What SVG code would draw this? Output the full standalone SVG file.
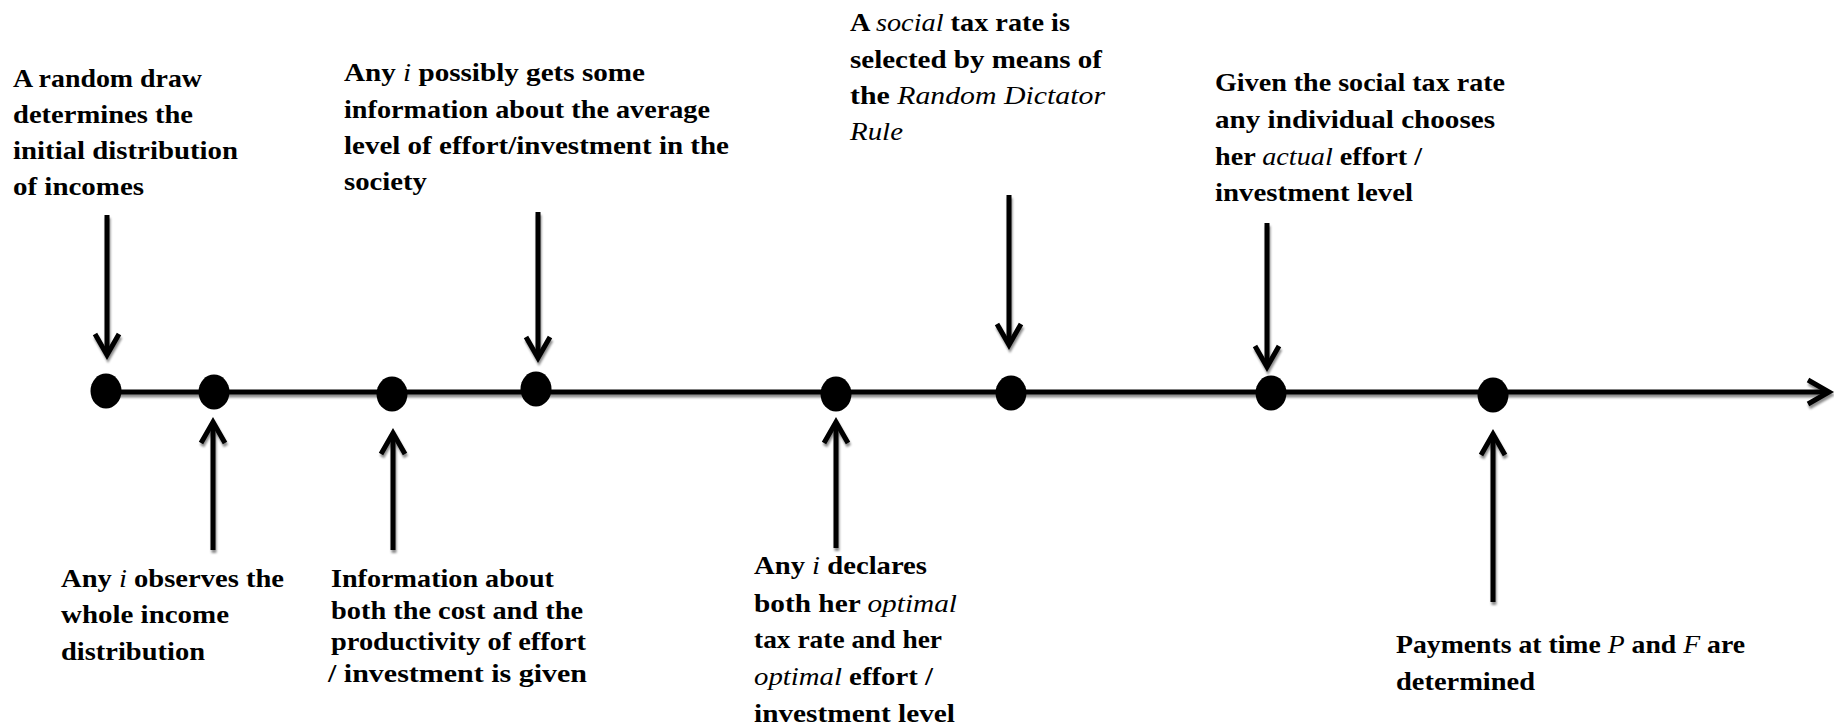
<svg xmlns="http://www.w3.org/2000/svg" width="1834" height="728" viewBox="0 0 1834 728">
<style>
text{font-family:'Liberation Serif','DejaVu Serif',serif;font-weight:700;font-size:26px;fill:#000}
.it{font-style:italic;font-weight:400}
.ln{stroke:#000;stroke-width:5;fill:none}
.dot{fill:#000}
</style>
<defs>
<filter id="sh" x="-5%" y="-20%" width="110%" height="140%">
<feDropShadow dx="1" dy="3" stdDeviation="1" flood-color="#000" flood-opacity="0.45"/>
</filter>
<marker id="chev" markerUnits="userSpaceOnUse" viewBox="-26 -16 30 32" refX="0" refY="0" markerWidth="30" markerHeight="32" orient="auto" overflow="visible">
<path d="M-21 -12 L0 0 L-21 12" fill="none" stroke="#000" stroke-width="5" stroke-linejoin="miter" stroke-linecap="butt"/>
</marker>
</defs>
<rect width="1834" height="728" fill="#fff"/>
<g id="connectors" filter="url(#sh)">
<line class="ln" x1="106" y1="392" x2="1829" y2="392" stroke-width="6.5" marker-end="url(#chev)"/>
<line class="ln" x1="107" y1="215" x2="107" y2="355" marker-end="url(#chev)"/>
<line class="ln" x1="538" y1="212" x2="538" y2="358" marker-end="url(#chev)"/>
<line class="ln" x1="1009" y1="195" x2="1009" y2="345" marker-end="url(#chev)"/>
<line class="ln" x1="1267" y1="223" x2="1267" y2="367" marker-end="url(#chev)"/>
<line class="ln" x1="213" y1="550" x2="213" y2="422" marker-end="url(#chev)"/>
<line class="ln" x1="393" y1="550" x2="393" y2="433" marker-end="url(#chev)"/>
<line class="ln" x1="836" y1="548" x2="836" y2="422" marker-end="url(#chev)"/>
<line class="ln" x1="1493" y1="602" x2="1493" y2="434" marker-end="url(#chev)"/>
</g>
<g id="event-1">
<ellipse class="dot" cx="106" cy="391" rx="15.5" ry="17.5"/>
<text x="13" y="87" textLength="189" lengthAdjust="spacingAndGlyphs">A random draw</text>
<text x="13" y="123" textLength="180" lengthAdjust="spacingAndGlyphs">determines the</text>
<text x="13" y="159" textLength="225" lengthAdjust="spacingAndGlyphs">initial distribution</text>
<text x="13" y="195" textLength="131" lengthAdjust="spacingAndGlyphs">of incomes</text>
</g>
<g id="event-2">
<ellipse class="dot" cx="214" cy="392" rx="15.5" ry="17.5"/>
<text y="587" x="61" textLength="223" lengthAdjust="spacingAndGlyphs">Any <tspan class="it">i</tspan> observes the</text>
<text y="623" x="61" textLength="168" lengthAdjust="spacingAndGlyphs">whole income</text>
<text y="660" x="61" textLength="144" lengthAdjust="spacingAndGlyphs">distribution</text>
</g>
<g id="event-3">
<ellipse class="dot" cx="392" cy="394" rx="15.5" ry="17.5"/>
<text y="587" x="331" textLength="223" lengthAdjust="spacingAndGlyphs">Information about</text>
<text y="619" x="331" textLength="252" lengthAdjust="spacingAndGlyphs">both the cost and the</text>
<text y="650" x="331" textLength="255" lengthAdjust="spacingAndGlyphs">productivity of effort</text>
<text y="682" x="328" textLength="259" lengthAdjust="spacingAndGlyphs">/ investment is given</text>
</g>
<g id="event-4">
<ellipse class="dot" cx="536" cy="389" rx="15.5" ry="17.5"/>
<text y="81" x="344" textLength="301" lengthAdjust="spacingAndGlyphs">Any <tspan class="it">i</tspan> possibly gets some</text>
<text y="118" x="344" textLength="366" lengthAdjust="spacingAndGlyphs">information about the average</text>
<text y="154" x="344" textLength="385" lengthAdjust="spacingAndGlyphs">level of effort/investment in the</text>
<text y="190" x="344" textLength="83" lengthAdjust="spacingAndGlyphs">society</text>
</g>
<g id="event-5">
<ellipse class="dot" cx="836" cy="394" rx="15.5" ry="17.5"/>
<text y="574" x="754" textLength="173" lengthAdjust="spacingAndGlyphs">Any <tspan class="it">i</tspan> declares</text>
<text y="612" x="754" textLength="203" lengthAdjust="spacingAndGlyphs">both her <tspan class="it">optimal</tspan></text>
<text y="648" x="754" textLength="188" lengthAdjust="spacingAndGlyphs">tax rate and her</text>
<text y="685" x="754" textLength="179" lengthAdjust="spacingAndGlyphs"><tspan class="it">optimal</tspan> effort /</text>
<text y="722" x="754" textLength="201" lengthAdjust="spacingAndGlyphs">investment level</text>
</g>
<g id="event-6">
<ellipse class="dot" cx="1011" cy="393" rx="15.5" ry="17.5"/>
<text y="31" x="850" textLength="220" lengthAdjust="spacingAndGlyphs">A <tspan class="it">social</tspan> tax rate is</text>
<text y="68" x="850" textLength="252" lengthAdjust="spacingAndGlyphs">selected by means of</text>
<text y="104" x="850" textLength="255" lengthAdjust="spacingAndGlyphs">the <tspan class="it">Random Dictator</tspan></text>
<text y="140" x="850" textLength="53" lengthAdjust="spacingAndGlyphs"><tspan class="it">Rule</tspan></text>
</g>
<g id="event-7">
<ellipse class="dot" cx="1271" cy="393" rx="15.5" ry="17.5"/>
<text y="91" x="1215" textLength="290" lengthAdjust="spacingAndGlyphs">Given the social tax rate</text>
<text y="128" x="1215" textLength="280" lengthAdjust="spacingAndGlyphs">any individual chooses</text>
<text y="165" x="1215" textLength="207" lengthAdjust="spacingAndGlyphs">her <tspan class="it">actual</tspan> effort /</text>
<text y="201" x="1215" textLength="198" lengthAdjust="spacingAndGlyphs">investment level</text>
</g>
<g id="event-8">
<ellipse class="dot" cx="1493" cy="395" rx="15.5" ry="17.5"/>
<text y="653" x="1396" textLength="349" lengthAdjust="spacingAndGlyphs">Payments at time <tspan class="it">P</tspan> and <tspan class="it">F</tspan> are</text>
<text y="690" x="1396" textLength="139" lengthAdjust="spacingAndGlyphs">determined</text>
</g>
</svg>
